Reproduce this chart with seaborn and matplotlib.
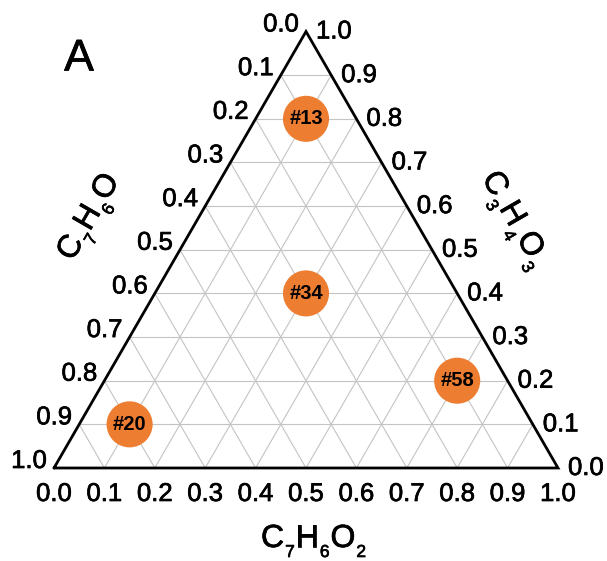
import numpy as np
import pandas as pd
import matplotlib
matplotlib.use("Agg")
import matplotlib.pyplot as plt
import matplotlib.patheffects as pe
from matplotlib.font_manager import FontProperties
import seaborn as sns

# Sample compositions (fractions of each component)
samples = ["#13", "#34", "#20", "#58"]
c7h6o = [0.1, 0.3, 0.8, 0.1]
c7h6o2 = [0.1, 0.3, 0.1, 0.7]
c3h4o3 = [0.8, 0.4, 0.1, 0.2]

tick_values = [0.0, 0.1, 0.2, 0.3, 0.4, 0.5, 0.6, 0.7, 0.8, 0.9, 1.0]
tick_labels = [f"{v:.1f}" for v in tick_values]

# axis titles as (text, is_subscript) pieces
title_bottom = [("C", False), ("7", True), ("H", False), ("6", True), ("O", False), ("2", True)]
title_left = [("C", False), ("7", True), ("H", False), ("6", True), ("O", False)]
title_right = [("C", False), ("3", True), ("H", False), ("4", True), ("O", False), ("3", True)]

sns.set_theme(style="white")
plt.rcParams["font.family"] = ["Liberation Sans", "DejaVu Sans"]
plt.rcParams["text.color"] = "black"

H = np.sqrt(3) / 2
heavy = [pe.withStroke(linewidth=0.5, foreground="black")]


def to_xy(a, b, c):
    """Ternary (C7H6O, C7H6O2, C3H4O3) -> cartesian."""
    a, b, c = np.asarray(a, float), np.asarray(b, float), np.asarray(c, float)
    return b + c / 2, c * H


fig = plt.figure(figsize=(6.07, 5.61), dpi=100)
ax = fig.add_axes([0, 0, 1, 1])
px = 504.0
ax.set_xlim(-54 / px, (607 - 54) / px)
ax.set_ylim((468 - 561) / px, 468 / px)
ax.set_axis_off()


def pix(xp, yp):
    """Pixel position (from top-left) -> data coordinates."""
    return (xp - 54) / px, (468 - yp) / px


# triangular grid
grid_kw = dict(color="#c4c4c4", lw=0.8, zorder=1)
for v in tick_values[1:-1]:
    x, y = to_xy([1 - v, 0], [0, 1 - v], [v, v])
    ax.plot(x, y, **grid_kw)
    x, y = to_xy([1 - v, 0], [v, v], [0, 1 - v])
    ax.plot(x, y, **grid_kw)
    x, y = to_xy([v, v], [1 - v, 0], [0, 1 - v])
    ax.plot(x, y, **grid_kw)

# outline
x, y = to_xy([1, 0, 0, 1], [0, 1, 0, 0], [0, 0, 1, 0])
ax.plot(x, y, color="black", lw=2, zorder=2, solid_joinstyle="miter")

# sample points
df = pd.DataFrame({"sample": samples, "C7H6O": c7h6o, "C7H6O2": c7h6o2, "C3H4O3": c3h4o3})
df["x"], df["y"] = to_xy(df["C7H6O"], df["C7H6O2"], df["C3H4O3"])
sns.scatterplot(data=df, x="x", y="y", s=1100, color="#ED7D31", edgecolor="none",
                ax=ax, zorder=3, legend=False)
for _, r in df.iterrows():
    ax.text(r["x"], r["y"], r["sample"], ha="center", va="center", fontsize=14.5,
            fontweight="bold", color="black", zorder=4)

tick_fs = 18.5
for v, lab in zip(tick_values, tick_labels):
    # bottom axis: C7H6O2
    x, y = to_xy(1 - v, v, 0)
    ax.annotate(lab, (x, y), xytext=(0, -14), textcoords="offset pixels",
                ha="center", va="top", fontsize=tick_fs, path_effects=heavy)
    # left axis: C7H6O
    x, y = to_xy(v, 0, 1 - v)
    ax.annotate(lab, (x, y), xytext=(-7, 0), textcoords="offset pixels",
                ha="right", va="baseline", fontsize=tick_fs, path_effects=heavy)
    # right axis: C3H4O3
    x, y = to_xy(0, 1 - v, v)
    ax.annotate(lab, (x, y), xytext=(10, 0), textcoords="offset pixels",
                ha="left", va="center", fontsize=tick_fs, path_effects=heavy)

# chemical-formula axis titles, set piece by piece with dropped subscripts
renderer = fig.canvas.get_renderer()
main_prop = FontProperties(family="Liberation Sans", size=23)
sub_prop = FontProperties(family="Liberation Sans", size=12.5)
sub_drop = 10.0
gap = 1.0


def formula(pieces, start, angle):
    th = np.deg2rad(angle)
    d = np.array([np.cos(th), np.sin(th)])
    up = np.array([-np.sin(th), np.cos(th)])
    adv = 0.0
    for s, is_sub in pieces:
        prop = sub_prop if is_sub else main_prop
        off = adv * d - (sub_drop * up if is_sub else 0)
        ax.annotate(s, start, xytext=tuple(off), textcoords="offset pixels",
                    rotation=angle, rotation_mode="anchor", ha="left", va="baseline",
                    fontproperties=prop, path_effects=heavy)
        w, _, _ = renderer.get_text_width_height_descent(s, prop, ismath=False)
        adv += w + gap


formula(title_bottom, pix(261, 547), 0)
formula(title_left, pix(72.5, 262), 60)
formula(title_right, pix(481.5, 178), -60)

ax.text(*pix(79, 59), "A", ha="center", va="center", fontsize=32, path_effects=heavy)

fig.savefig("out.png", dpi=100)
